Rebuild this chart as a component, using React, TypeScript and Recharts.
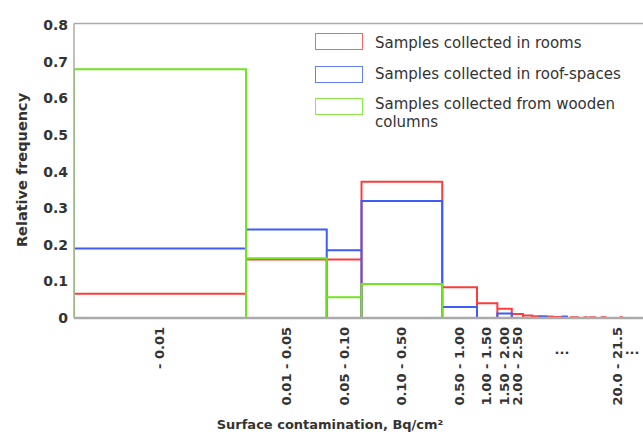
import React from 'react';
import { ComposedChart, Line, XAxis, YAxis, Legend, ReferenceLine } from 'recharts';

// Bin edges in Bq/cm² (first bin "- 0.01" starts at the axis minimum)
const binEdges = [0.000324, 0.01, 0.05, 0.1, 0.5, 1, 1.5, 2, 2.5, 3, 3.5, 4, 4.5, 5, 5.5, 6, 6.5, 7, 7.5, 8, 8.5, 9, 9.5, 10, 10.5, 11, 11.5, 12, 12.5, 13, 17.5, 18, 20, 21.5, 30];

// Relative frequency per bin
const rooms = [0.066, 0.16, 0.16, 0.372, 0.084, 0.04, 0.025, 0.011, 0.007, 0.005, 0.004, 0.004, 0.003, 0.003, 0.003, 0, 0.002, 0.002, 0, 0, 0.002, 0, 0.002, 0.002, 0, 0, 0, 0.002, 0.002, 0, 0.002, 0, 0, 0];
const roofSpaces = [0.19, 0.242, 0.185, 0.32, 0.03, 0, 0.012, 0, 0, 0, 0.004, 0, 0, 0, 0.004, 0, 0, 0, 0, 0, 0, 0, 0, 0, 0, 0, 0, 0, 0, 0, 0, 0, 0, 0];
const woodenColumns = [0.68, 0.163, 0.057, 0.093, 0, 0, 0, 0, 0, 0, 0, 0, 0, 0, 0, 0, 0, 0, 0, 0, 0, 0, 0, 0, 0, 0, 0, 0, 0, 0, 0, 0, 0, 0];

const xTickValues = [0.00179, 0.0224, 0.0707, 0.224, 0.707, 1.22, 1.73, 2.24, 5.44, 16.3, 22.0];
const xTickLabels = ['- 0.01', '0.01 - 0.05', '0.05 - 0.10', '0.10 - 0.50', '0.50 - 1.00', '1.00 - 1.50', '1.50 - 2.00', '2.00 - 2.50', '...', '20.0 - 21.5', '...'];

const yTicks = [0, 0.1, 0.2, 0.3, 0.4, 0.5, 0.6, 0.7, 0.8];
const yMinorTicks = [0.025, 0.05, 0.075, 0.125, 0.15, 0.175, 0.225, 0.25, 0.275, 0.325, 0.35, 0.375, 0.425, 0.45, 0.475, 0.525, 0.55, 0.575, 0.625, 0.65, 0.675, 0.725, 0.75, 0.775];

const seriesNames = ['Samples collected in rooms', 'Samples collected in roof-spaces', 'Samples collected from wooden columns'];
const RED = '#ff3c3c';
const BLUE = '#3f5cf5';
const GREEN = '#6fe41f';

const FONT = '"DejaVu Sans", Verdana, sans-serif';

function outline(values: number[]) {
  const pts: { x: number; y: number }[] = [];
  values.forEach((v, i) => {
    pts.push({ x: binEdges[i], y: 0 });
    pts.push({ x: binEdges[i], y: v });
    pts.push({ x: binEdges[i + 1], y: v });
    pts.push({ x: binEdges[i + 1], y: 0 });
  });
  return pts;
}

const XTick = (props: any) => {
  const { x, y, index } = props;
  const label = xTickLabels[index];
  if (label === '...') {
    return (
      <text x={x} y={y + 22} textAnchor="middle" dominantBaseline="central" fontFamily={FONT} fontWeight="bold" fontSize={13} fill="#333">
        {label}
      </text>
    );
  }
  return (
    <text
      transform={`translate(${x},${y}) rotate(-90)`}
      textAnchor="end"
      dominantBaseline="central"
      fontFamily={FONT}
      fontWeight="bold"
      fontSize={13}
      fill="#333"
    >
      {label}
    </text>
  );
};

const LegendBox = () => {
  const colors = [RED, BLUE, GREEN];
  const tops = [0, 33, 65];
  return (
    <div style={{ position: 'relative', width: 320, height: 100, fontFamily: FONT, fontSize: 15, color: '#333' }}>
      {colors.map((c, i) => (
        <div key={'s' + i} style={{ position: 'absolute', left: 0, top: tops[i], width: 48, height: 17, border: `1.5px solid ${c}`, boxSizing: 'border-box', opacity: 0.8 }} />
      ))}
      <div style={{ position: 'absolute', left: 60, top: 1, lineHeight: '18px', whiteSpace: 'nowrap' }}>{seriesNames[0]}</div>
      <div style={{ position: 'absolute', left: 60, top: 32, lineHeight: '18px', whiteSpace: 'nowrap' }}>{seriesNames[1]}</div>
      <div style={{ position: 'absolute', left: 60, top: 62, lineHeight: '18px', whiteSpace: 'nowrap' }}>
        Samples collected from wooden
        <br />
        columns
      </div>
    </div>
  );
};

export default function App() {
  return (
    <div style={{ position: 'absolute', left: 0, top: 0, width: 643, height: 434, overflow: 'hidden', background: '#fff' }}>
      <ComposedChart width={660} height={434} margin={{ top: 23.4, right: 12.4, bottom: 0, left: 0 }}>
        <XAxis
          type="number"
          dataKey="x"
          scale="log"
          domain={[0.000324, 30]}
          allowDataOverflow
          ticks={xTickValues}
          interval={0}
          height={116}
          tickSize={0}
          tickMargin={9}
          tickLine={false}
          axisLine={{ stroke: '#aaaaaa', strokeWidth: 2.5 }}
          tick={<XTick />}
          label={(p: any) => {
            const vb = p.viewBox || { x: 74, y: 318 };
            return (
              <text x={vb.x + 256} y={vb.y + 106} textAnchor="middle" dominantBaseline="central" fontFamily={FONT} fontWeight="bold" fontSize={13} fill="#333">
                Surface contamination, Bq/cm²
              </text>
            );
          }}
        />
        <YAxis
          type="number"
          domain={[0, 0.805]}
          ticks={yTicks}
          interval={0}
          width={74}
          tickSize={0}
          tickMargin={6}
          tickLine={false}
          axisLine={{ stroke: '#aaaaaa', strokeWidth: 1.5 }}
          tick={{ fontFamily: FONT, fontWeight: 'bold', fontSize: 14, fill: '#333' }}
          tickFormatter={(v: number) => (v === 0 ? '0' : String(v))}
          label={(p: any) => (
            <text x={22} y={170} transform="rotate(-90, 22, 170)" textAnchor="middle" dominantBaseline="central" fontFamily={FONT} fontWeight="bold" fontSize={14.5} fill="#333">
              Relative frequency
            </text>
          )}
        />
        <YAxis yAxisId="minor" type="number" domain={[0, 0.805]} ticks={yMinorTicks} interval={0} mirror tick={false} tickSize={2} axisLine={false} tickLine={{ stroke: '#777', strokeWidth: 1 }} />
        <YAxis yAxisId="major" type="number" domain={[0, 0.805]} ticks={yTicks} interval={0} mirror tick={false} tickSize={4} axisLine={false} tickLine={{ stroke: '#666', strokeWidth: 1 }} />
        <ReferenceLine y={0.805} stroke="#aaaaaa" strokeWidth={1.5} ifOverflow="extendDomain" />
        <Line data={outline(rooms)} dataKey="y" name={seriesNames[0]} type="linear" stroke={RED} strokeWidth={2} dot={false} activeDot={false} isAnimationActive={false} />
        <Line data={outline(roofSpaces)} dataKey="y" name={seriesNames[1]} type="linear" stroke={BLUE} strokeWidth={2} dot={false} activeDot={false} isAnimationActive={false} />
        <Line data={outline(woodenColumns)} dataKey="y" name={seriesNames[2]} type="linear" stroke={GREEN} strokeWidth={2} dot={false} activeDot={false} isAnimationActive={false} />
        <Legend layout="vertical" align="center" verticalAlign="middle" wrapperStyle={{ position: 'absolute', left: 315, top: 33, width: 320, height: 100 }} content={() => <LegendBox />} />
      </ComposedChart>
    </div>
  );
}
